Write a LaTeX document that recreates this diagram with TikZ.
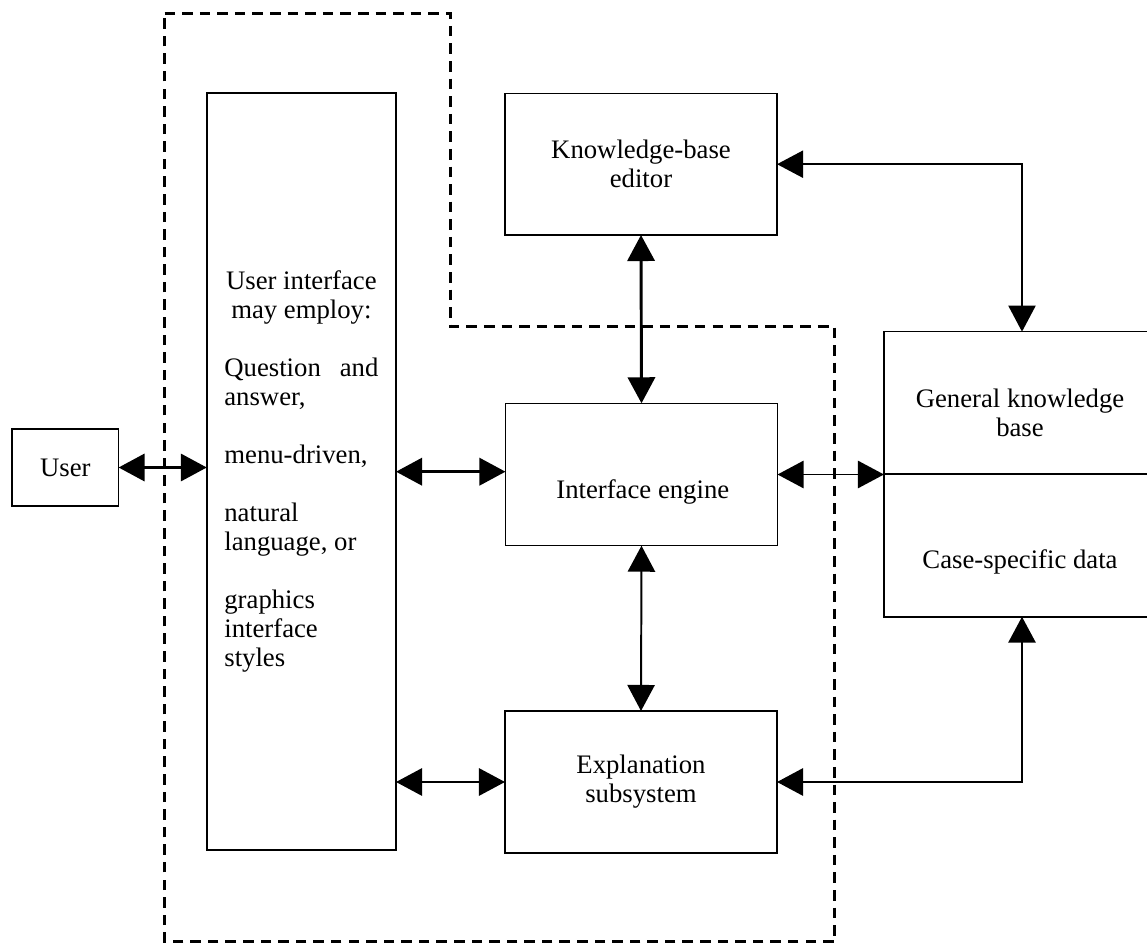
\documentclass[tikz,border=0pt]{standalone}
\usepackage{fontspec}
\setmainfont{Liberation Serif}
\usetikzlibrary{arrows.meta}

\tikzset{
  block/.style={draw, line width=1.1pt, inner sep=0pt, outer sep=0pt},
  both/.style={{Triangle[length=0.65cm,width=0.68cm]}-{Triangle[length=0.65cm,width=0.68cm]}},
  boundary/.style={dash pattern=on 7.5pt off 5pt, line width=1.9pt}
}

\begin{document}
\begin{tikzpicture}[x=0.025cm, y=-0.025cm, font=\fontsize{19}{20.6}\selectfont, every node/.style={align=center}]
        \useasboundingbox (0,0) rectangle (1147,945);

        % expert system boundary
        \draw[boundary] (164.6,13.3) -- (450.8,13.3) -- (450.8,326.7) -- (834.7,326.7) -- (834.7,941.7) -- (164.6,941.7) -- cycle;

        \node[block, minimum width=2.66cm, minimum height=1.925cm] (user) at (65.4,467.5) {User};

        \node[block, minimum width=4.73cm, minimum height=18.92cm, text width=3.85cm, align=justify] (ui) at (301.4,471.7) {%
          {\centering User interface\\ may employ:\par}
          \vspace{20.6pt}
          Question\hfill and\\
          answer,\par
          \vspace{20.6pt}
          menu-driven,\par
          \vspace{20.6pt}
          natural\\
          language, or\par
          \vspace{20.6pt}
          graphics\\
          interface\\
          styles};

        \node[block, minimum width=6.8cm, minimum height=3.54cm] (kbe) at (641,164.2) {Knowledge-base\\ editor};
        \node[block, minimum width=6.8cm, minimum height=3.56cm] (ie) at (641.5,474.5) {};
        \node (ietext) at (642.8,492) {Interface engine};
        \node[block, minimum width=6.8cm, minimum height=3.55cm] (ex) at (641,782) {Explanation\\ subsystem};

        \node[block, minimum width=6.9cm, minimum height=7.125cm] (kb) at (1022,474.2) {};
        \draw[line width=1.1pt] (kb.west) -- (kb.east);
        \node (gkb) at (1020,412.5) {General knowledge\\ base};
        \node (csd) at (1020,561.7) {Case-specific data};

        \draw[both, line width=2.1pt] (user.east) -- (user.east -| ui.west);
        \draw[both, line width=2.1pt] (ui.east) -- (ui.east -| ie.west);
        \draw[both, line width=1.7pt] (ui.east |- ex.west) -- (ex.west);

        \draw[both, line width=2.1pt] (kbe.south) -- (ie.north);
        \draw[both, line width=1.4pt] (ie.south) -- (ex.north);
        \draw[both, line width=1.4pt] (ie.east) -- (ie.east -| kb.west);

        \draw[both, line width=1pt] (kbe.east) -| (kb.north);
        \draw[both, line width=1.7pt] (ex.east) -| (kb.south);
\end{tikzpicture}
\end{document}
